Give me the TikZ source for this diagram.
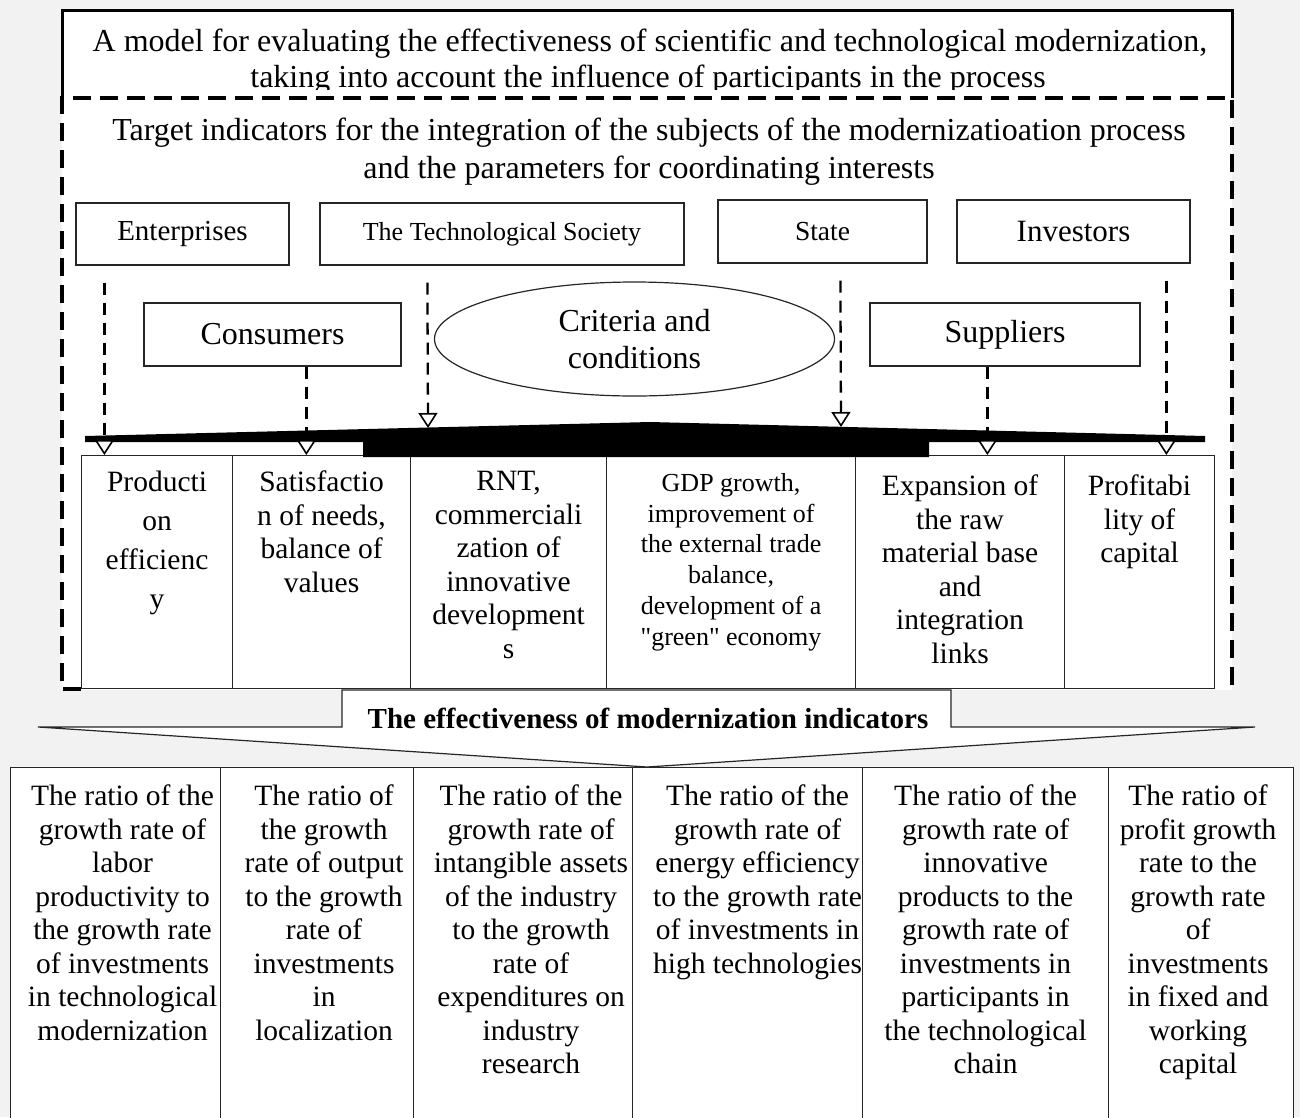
\documentclass[tikz,border=0pt]{standalone}
\usepackage{fontspec}
\setmainfont{Liberation Serif}
\newfontfamily\qfont{Liberation Serif}
\usetikzlibrary{arrows.meta,calc,shapes.geometric}
\newcommand\fz[2]{\fontsize{#1}{#2}\selectfont}
\begin{document}
\begin{tikzpicture}[x=1pt,y=-1pt,
  box/.style={draw=black!85, line width=1.2pt, fill=white, inner sep=0pt},
  cell/.style={draw=black!85, line width=1.1pt, fill=white, inner sep=0pt, anchor=north west},
  txt/.style={align=center, inner sep=0pt, anchor=north},
  dasharrow/.style={draw=black, line width=2.3pt, dash pattern=on 12pt off 8pt,
    -{Triangle[fill=white, length=15pt, width=19pt, line width=1.6pt]}},
  frame/.style={line width=4pt, dash pattern=on 18pt off 9pt}]
\useasboundingbox (0,0) rectangle (1300,1117);
\fill[black!5] (0,0) rectangle (1300,1117);
% white panel
\fill[white] (62,10) rectangle (1232,690);
% title frame
\draw[line width=3pt] (62,98) -- (62,10) -- (1232,10) -- (1232,98);
\draw[frame] (81,689) -- (62,689) -- (62,98) -- (1232,98) -- (1232,689);
% title text
\node[font=\fz{32}{36}, anchor=base, inner sep=0pt] (t1) at (650,51)
  {A model for evaluating the effectiveness of scientific and technological modernization,};
\begin{scope}
\clip (62,10) rectangle (1232,89);
\node[font=\fz{32}{36}, anchor=base, inner sep=0pt] (t2) at (648,87)
  {taking into account the influence of participants in the process};
\end{scope}
\node[font=\fz{32}{36}, anchor=base, inner sep=0pt] (s1) at (649,140)
  {Target indicators for the integration of the subjects of the modernizatioation process};
\node[font=\fz{32}{36}, anchor=base, inner sep=0pt] (s2) at (649,178)
  {and the parameters for coordinating interests};
% participant boxes
\node[box, font=\fz{29}{33}, minimum width=213, minimum height=62] (ent) at (182.5,234) {Enterprises};
\node[box, font=\fz{26}{30}, minimum width=364, minimum height=62] (tsoc) at (502,234) {The Technological Society};
\node[box, font=\fz{27.5}{32}, minimum width=209, minimum height=63] (state) at (822.5,231.5) {State};
\node[box, font=\fz{31}{35}, minimum width=233, minimum height=63] (inv) at (1073.5,231.5) {Investors};
\node[box, font=\fz{32}{36}, minimum width=257, minimum height=63] (cons) at (272.5,334.5) {Consumers};
\node[box, font=\fz{32}{36}, minimum width=270, minimum height=63] (supp) at (1005,334.5) {Suppliers};
\node[draw=black!85, line width=1.2pt, ellipse, inner sep=0pt, minimum width=400, minimum height=114,
  font=\fz{32}{36.5}, align=center] (crit) at (634.5,339) {Criteria and\\conditions};
% indicator cells
\node[cell, minimum width=151, minimum height=233] (c1) at (81,455) {};
\node[cell, minimum width=178, minimum height=233] (c2) at (232,455) {};
\node[cell, minimum width=196, minimum height=233] (c3) at (410,455) {};
\node[cell, minimum width=249, minimum height=233] (c4) at (606,455) {};
\node[cell, minimum width=209, minimum height=233] (c5) at (855,455) {};
\node[cell, minimum width=150, minimum height=233] (c6) at (1064,455) {};
\node[txt, font=\fz{29.5}{39}] (c1t) at ($(c1.north)+(0,16)$) {Producti\\on\\efficienc\\y};
\node[txt, font=\fz{29.5}{33.5}] (c2t) at ($(c2.north)+(0,16)$) {Satisfactio\\n of needs,\\balance of\\values};
\node[txt, font=\fz{29.5}{33.5}] (c3t) at ($(c3.north)+(0,16)$) {RNT,\\commerciali\\zation of\\innovative\\development\\s};
\node[txt, font=\fz{26}{30.8}] (c4t) at ($(c4.north)+(0,18)$) {GDP growth,\\improvement of\\the external trade\\balance,\\development of a\\{\qfont"}green{\qfont"} economy};
\node[txt, font=\fz{29.5}{33.5}] (c5t) at ($(c5.north)+(0,20)$) {Expansion of\\the raw\\material base\\and\\integration\\links};
\node[txt, font=\fz{29.5}{33.5}] (c6t) at ($(c6.north)+(0,20)$) {Profitabi\\lity of\\capital};
% black bar
\fill[black] (85,436) -- (650,422) -- (1205,436) -- (1205,442) -- (929,442) -- (929,457)
  -- (363,457) -- (363,442) -- (85,442) -- cycle;
% dashed arrows
\coordinate (tsEnd) at (428,428);
\coordinate (stEnd) at (841,427);
\draw[dasharrow] ($(ent.south west)+(29,17)$) coordinate (a1) -- (a1 |- c1.north);
\draw[dasharrow] ($(cons.south west)+(163,0)$) coordinate (a2) -- (a2 |- c2.north);
\draw[dasharrow] ($(tsoc.south west)+(108,17)$) -- (tsEnd);
\draw[dasharrow] ($(state.south west)+(123,17)$) -- (stEnd);
\draw[dasharrow] ($(supp.south west)+(118,0)$) coordinate (a5) -- (a5 |- c5.north);
\draw[dasharrow] ($(inv.south west)+(210,17)$) coordinate (a6) -- (a6 |- c6.north);
% bottom arrow
\filldraw[fill=white, draw=black!85, line width=1.2pt] (342,690) -- (951,690) -- (951,727) -- (1255,727)
  -- (647,767) -- (38,727) -- (342,727) -- cycle;
\node[font=\fz{29}{33}\bfseries, anchor=base, inner sep=0pt] (eff) at (648,728)
  {The effectiveness of modernization indicators};
% bottom table
\node[cell, minimum width=210, minimum height=370] (b1) at (10,767) {};
\node[cell, minimum width=193, minimum height=370] (b2) at (220,767) {};
\node[cell, minimum width=219, minimum height=370] (b3) at (413,767) {};
\node[cell, minimum width=230, minimum height=370] (b4) at (632,767) {};
\node[cell, minimum width=246, minimum height=370] (b5) at (862,767) {};
\node[cell, minimum width=185, minimum height=370] (b6) at (1108,767) {};
\tikzset{btxt/.style={txt, font=\fz{29.5}{33.5}}}
\node[btxt] (b1t) at ($(b1.north)+(7,18)$) {The ratio of the\\growth rate of\\labor\\productivity to\\the growth rate\\of investments\\in technological\\modernization};
\node[btxt] (b2t) at ($(b2.north)+(7,18)$) {The ratio of\\the growth\\rate of output\\to the growth\\rate of\\investments\\in\\localization};
\node[btxt] (b3t) at ($(b3.north)+(8,18)$) {The ratio of the\\growth rate of\\intangible assets\\of the industry\\to the growth\\rate of\\expenditures on\\industry\\research};
\node[btxt] (b4t) at ($(b4.north)+(10,18)$) {The ratio of the\\growth rate of\\energy efficiency\\to the growth rate\\of investments in\\high technologies};
\node[btxt] (b5t) at ($(b5.north)+(0,18)$) {The ratio of the\\growth rate of\\innovative\\products to the\\growth rate of\\investments in\\participants in\\the technological\\chain};
\node[btxt] (b6t) at ($(b6.north)+(-3,18)$) {The ratio of\\profit growth\\rate to the\\growth rate\\of\\investments\\in fixed and\\working\\capital};
\end{tikzpicture}
\end{document}
